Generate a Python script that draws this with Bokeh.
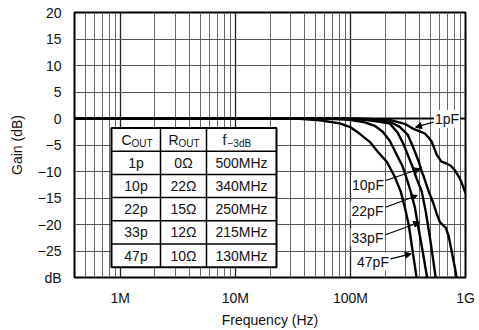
import math
from bokeh.plotting import figure
from bokeh.models import (Range1d, FixedTicker, CustomJSTickFormatter, Span, Label,
                          Arrow, NormalHead)
from bokeh.embed import file_html
from bokeh.resources import INLINE

# ---------------- data ----------------
curve_names = ["47pF", "33pF", "22pF", "10pF", "1pF"]

freq_47p = [0.4, 10, 36.2, 54.1, 80.7, 98.6, 120.5, 147.2, 172.8, 206.9, 242.7, 273.8,
            296.6, 321.4, 348.1, 377.2, 384.8]
gain_47p = [0, 0, -0.06, -0.34, -0.91, -1.57, -2.89, -4.40, -6.26, -8.15, -11.0, -13.8,
            -16.7, -20.1, -25.2, -30.2, -31.7]

freq_33p = [0.4, 20, 66.1, 98.6, 133.2, 162.7, 190.9, 219.6, 252.6, 285.0, 308.7, 334.5,
            362.4, 384.8, 425.4, 465.5, 479.7]
gain_33p = [0, 0, -0.06, -0.25, -0.72, -1.38, -2.51, -4.21, -6.85, -9.11, -11.4, -13.8,
            -16.7, -19.9, -25.2, -30.2, -31.7]

freq_22p = [0.4, 20, 89.2, 133.2, 179.8, 219.6, 257.8, 290.7, 341.2, 377.2, 416.9, 451.7,
            489.4, 519.6, 551.7, 562.9]
gain_22p = [0, 0, -0.06, -0.25, -0.62, -0.94, -2.70, -4.96, -8.74, -11.4, -13.8, -17.6,
            -22.3, -26.1, -30.2, -31.7]

freq_10p = [0.4, 20, 109.0, 162.7, 219.6, 268.4, 315.0, 355.2, 392.6, 416.9, 434.0, 479.7,
            519.6, 562.9, 597.6, 634.7, 674.0, 715.8, 760.2, 807.2, 840.3, 857.2]
gain_10p = [0, 0, -0.06, -0.25, -0.62, -1.57, -3.08, -5.72, -8.15, -10.06, -11.0, -13.8,
            -15.7, -18.0, -19.5, -20.1, -20.6, -22.3, -25.2, -28.0, -30.2, -31.7]

freq_1p = [0.4, 20, 133.2, 219.6, 296.6, 348.1, 400.6, 442.8, 479.7, 509.3, 562.9, 618.3,
           683.6, 745.1, 807.2, 892.2, 947.3, 1006]
gain_1p = [0, 0, -0.06, -0.25, -1.0, -1.89, -2.42, -2.83, -3.64, -4.40, -6.85, -8.15,
           -8.49, -8.92, -9.74, -11.3, -12.7, -14.2]

x_ticks = [1e6, 1e7, 1e8, 1e9]
x_tick_labels = ["1M", "10M", "100M", "1G"]
y_ticks = [-30, -25, -20, -15, -10, -5, 0, 5, 10, 15, 20]
y_tick_labels = ["dB", "\u221225", "\u221220", "\u221215", "\u221210", "\u22125",
                 "0", "5", "10", "15", "20"]

table_cout = ["1p", "10p", "22p", "33p", "47p"]
table_rout = ["0\u03a9", "22\u03a9", "15\u03a9", "12\u03a9", "10\u03a9"]
table_f3db = ["500MHz", "340MHz", "250MHz", "215MHz", "130MHz"]

XMIN, XMAX = 4e5, 1e9
YMIN, YMAX = -30, 20
FONT = "Liberation Sans"
INK = "#111111"

# layout helpers: position inside the plot frame (reference pixels) -> data
REF_W, REF_H = 391.0, 265.0


def fx(px):
    lo, hi = math.log10(XMIN), math.log10(XMAX)
    return 10 ** (lo + px / REF_W * (hi - lo))


def fy(py):
    return YMAX - py / REF_H * (YMAX - YMIN)


p = figure(frame_width=391, frame_height=265, x_axis_type="log",
           x_range=Range1d(XMIN, XMAX), y_range=Range1d(YMIN, YMAX),
           output_backend="svg", toolbar_location=None,
           min_border_left=74, min_border_right=14, min_border_top=12, min_border_bottom=53)
p.background_fill_color = "white"
p.border_fill_color = "white"
p.outline_line_color = "black"
p.outline_line_width = 2

# grids
minor_x = [m * 10 ** e for e in range(5, 9) for m in range(2, 10) if XMIN <= m * 10 ** e <= XMAX]
p.xgrid.ticker = FixedTicker(ticks=x_ticks, minor_ticks=minor_x)
p.xgrid.grid_line_color = "#222222"
p.xgrid.grid_line_width = 1.3
p.xgrid.minor_grid_line_color = "#666666"
p.xgrid.minor_grid_line_width = 1
p.ygrid.ticker = FixedTicker(ticks=y_ticks)
p.ygrid.grid_line_color = "#555555"
p.ygrid.grid_line_width = 1

# axes
fmt_code_x = """
for (let i = 0; i < tvals.length; i++) {
  if (Math.abs(Math.log10(tvals[i]) - Math.log10(tick)) < 1e-6) return tlabels[i];
}
return '';
"""
fmt_code_y = """
for (let i = 0; i < tvals.length; i++) {
  if (Math.abs(tvals[i] - tick) < 1e-6) return tlabels[i];
}
return '';
"""
p.xaxis.ticker = FixedTicker(ticks=x_ticks, minor_ticks=[])
p.xaxis.formatter = CustomJSTickFormatter(args=dict(tvals=x_ticks, tlabels=x_tick_labels),
                                          code=fmt_code_x)
p.yaxis.ticker = FixedTicker(ticks=y_ticks, minor_ticks=[])
p.yaxis.formatter = CustomJSTickFormatter(args=dict(tvals=y_ticks, tlabels=y_tick_labels),
                                          code=fmt_code_y)
for ax in (p.xaxis[0], p.yaxis[0]):
    ax.axis_line_color = None
    ax.major_tick_line_color = None
    ax.minor_tick_line_color = None
    ax.major_tick_out = 0
    ax.major_tick_in = 0
    ax.minor_tick_out = 0
    ax.minor_tick_in = 0
    ax.major_label_text_font = FONT
    ax.major_label_text_font_size = "14px"
    ax.major_label_text_color = INK
    ax.axis_label_text_font = FONT
    ax.axis_label_text_font_size = "14px"
    ax.axis_label_text_font_style = "normal"
    ax.axis_label_text_color = INK
p.xaxis.axis_label = "Frequency (Hz)"
p.yaxis.axis_label = "Gain (dB)"
p.xaxis.major_label_standoff = 12
p.xaxis.axis_label_standoff = 3
p.yaxis.major_label_standoff = 13
p.yaxis.axis_label_standoff = 10

p.add_layout(Span(location=0, dimension="width", line_color="black", line_width=2))

# curves
series = [(freq_47p, gain_47p), (freq_33p, gain_33p), (freq_22p, gain_22p),
          (freq_10p, gain_10p), (freq_1p, gain_1p)]
for freqs, gains in series:
    p.line(x=[f * 1e6 for f in freqs], y=gains, line_color="black", line_width=2.4)

# table
T_L, T_R, T_TOP, ROW_H = 37, 202, 115.5, 23.2
COL1, COL2 = 86, 132
n_rows = len(table_cout) + 1
p.quad(left=[fx(T_L)], right=[fx(T_R)], top=[fy(T_TOP)], bottom=[fy(T_TOP + n_rows * ROW_H)],
       fill_color="white", line_color="black", line_width=2)
p.segment(x0=[fx(T_L)] * (n_rows - 1), x1=[fx(T_R)] * (n_rows - 1),
          y0=[fy(T_TOP + i * ROW_H) for i in range(1, n_rows)],
          y1=[fy(T_TOP + i * ROW_H) for i in range(1, n_rows)],
          line_color="black", line_width=1.5)
p.segment(x0=[fx(COL1), fx(COL2)], x1=[fx(COL1), fx(COL2)],
          y0=[fy(T_TOP)] * 2, y1=[fy(T_TOP + n_rows * ROW_H)] * 2,
          line_color="black", line_width=1.5)


def add_text(x, y, text, size="14px", align="center", yoff=0, bg=None):
    kw = dict(x=x, y=y, text=text, text_align=align, text_baseline="middle",
              text_font=FONT, text_font_size=size, text_color=INK, y_offset=yoff)
    if bg:
        kw.update(background_fill_color=bg, padding=1)
    p.add_layout(Label(**kw))


hy = fy(T_TOP + 0.5 * ROW_H)
add_text(fx(57), hy, "C", align="right")
add_text(fx(57), hy, "OUT", size="10px", align="left", yoff=-4)
add_text(fx(104), hy, "R", align="right")
add_text(fx(104), hy, "OUT", size="10px", align="left", yoff=-4)
add_text(fx(152), hy, "f", align="right")
add_text(fx(153), hy, "\u22123dB", size="10px", align="left", yoff=-4)
cx = [(T_L + COL1) / 2, (COL1 + COL2) / 2, (COL2 + T_R) / 2]
for i in range(len(table_cout)):
    yc = fy(T_TOP + (i + 1.5) * ROW_H)
    add_text(fx(cx[0]), yc, table_cout[i])
    add_text(fx(cx[1]), yc, table_rout[i])
    add_text(fx(cx[2]), yc, table_f3db[i])

# curve labels with arrows (positions in frame pixels)
label_pos = {"1pF": (372.5, 106.5), "10pF": (293.5, 172), "22pF": (293, 198),
             "33pF": (293, 225), "47pF": (298.5, 249)}
arrow_pos = {"1pF": (359, 109.7, 341, 114.7), "10pF": (311, 168, 346, 156.3),
             "22pF": (311, 194.7, 342.7, 183), "33pF": (311, 222.3, 345.3, 209.7),
             "47pF": (316, 246.3, 336.7, 241.3)}
for name in curve_names:
    lx, ly = label_pos[name]
    add_text(fx(lx), fy(ly), name, bg="white")
    x0, y0, x1, y1 = arrow_pos[name]
    p.add_layout(Arrow(end=NormalHead(size=6, fill_color="black", line_color="black", line_width=1),
                       x_start=fx(x0), y_start=fy(y0), x_end=fx(x1), y_end=fy(y1),
                       line_color="black", line_width=1.2))

open("out.html", "w").write(file_html(p, INLINE))
